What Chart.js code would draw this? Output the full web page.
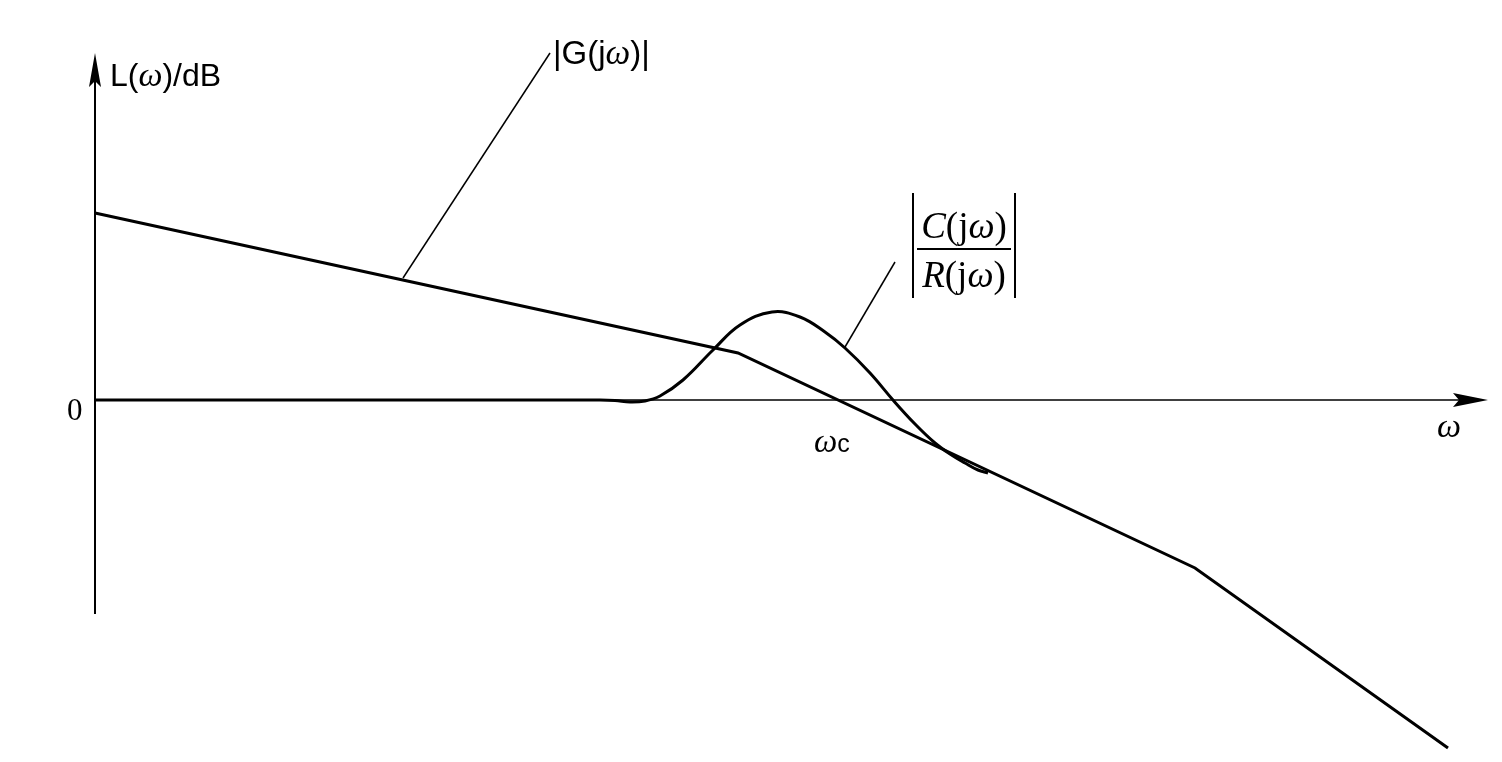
<!DOCTYPE html>
<html lang="en">
<head>
<meta charset="UTF-8">
<title>Bode sketch</title>
<script src="https://cdn.jsdelivr.net/npm/chart.js"></script>
<style>
  body { margin: 0; background: #fff; }
  #wrap { width: 1502px; height: 762px; }
</style>
</head>
<body>
<div id="wrap"><canvas id="bode"></canvas></div>
<script>
// open-loop asymptote |G(jw)|  (x: log-frequency units, y: dB)
const gX = [0, 6.43, 11.0, 13.53];
const gY = [18.7, 4.7, -16.8, -34.8];

// closed-loop magnitude |C(jw)/R(jw)|
const clX = [0, 5.05, 5.2, 5.35, 5.5, 5.65, 5.88, 6.18, 6.45, 6.77, 7.05, 7.3, 7.5, 7.75, 7.98, 8.2, 8.4, 8.55, 8.7, 8.83, 8.93];
const clY = [0, 0, -0.05, -0.2, -0.1, 0.4, 2.0, 5.0, 7.5, 8.8, 8.3, 6.8, 5.2, 2.7, 0, -2.4, -4.3, -5.4, -6.3, -7.0, -7.3];

// leader lines from labels to curves
const leadGX = [3.08, 4.55];
const leadGY = [12.2, 34.7];
const leadCX = [7.5, 8.0];
const leadCY = [5.3, 13.8];

const xMin = -0.95, xMax = 14.07;
const yMin = -36.2, yMax = 40;

function pts(xs, ys) { return xs.map((x, i) => ({ x: x, y: ys[i] })); }

const SANS = '"Liberation Sans", Arial, sans-serif';
const SERIF = '"Liberation Serif", "Times New Roman", serif';

function runs(ctx, x, y, parts) {
    ctx.textBaseline = 'alphabetic';
    ctx.textAlign = 'left';
    parts.forEach(p => {
        ctx.font = p[1];
        ctx.fillText(p[0], x, y);
        x += ctx.measureText(p[0]).width;
    });
    return x;
}
function runsWidth(ctx, parts) {
    let w = 0;
    parts.forEach(p => { ctx.font = p[1]; w += ctx.measureText(p[0]).width; });
    return w;
}

const axesPlugin = {
    id: 'axes',
    beforeDatasetsDraw(chart) {
        const ctx = chart.ctx, xs = chart.scales.x, ys = chart.scales.y;
        const ox = xs.getPixelForValue(0), oy = ys.getPixelForValue(0);
        const top = ys.getPixelForValue(34.7), bottom = ys.getPixelForValue(-21.4);
        const right = xs.getPixelForValue(13.93);
        ctx.save();
        ctx.strokeStyle = '#000';
        ctx.fillStyle = '#000';
        // y axis
        ctx.lineWidth = 2;
        ctx.beginPath(); ctx.moveTo(ox, bottom); ctx.lineTo(ox, top + 20); ctx.stroke();
        ctx.beginPath();
        ctx.moveTo(ox, top); ctx.lineTo(ox + 6, top + 34); ctx.lineTo(ox, top + 28); ctx.lineTo(ox - 6, top + 34);
        ctx.closePath(); ctx.fill();
        // x axis
        ctx.lineWidth = 1.5;
        ctx.beginPath(); ctx.moveTo(ox, oy); ctx.lineTo(right - 20, oy); ctx.stroke();
        ctx.beginPath();
        ctx.moveTo(right, oy); ctx.lineTo(right - 35, oy - 7); ctx.lineTo(right - 29, oy); ctx.lineTo(right - 35, oy + 7);
        ctx.closePath(); ctx.fill();
        ctx.restore();
    },
    afterDraw(chart) {
        const ctx = chart.ctx;
        ctx.save();
        ctx.fillStyle = '#000';
        runs(ctx, 110, 86, [['L(', '32px ' + SANS], ['\u03c9', 'italic 34px ' + SERIF], [')/dB', '32px ' + SANS]]);
        runs(ctx, 553, 64, [['|G(j', '33px ' + SANS], ['\u03c9', 'italic 35px ' + SERIF], [')|', '33px ' + SANS]]);
        ctx.font = '31px ' + SERIF;
        ctx.fillText('0', 67, 420);
        ctx.font = 'italic 34px ' + SERIF;
        ctx.fillText('\u03c9', 1437, 437);
        runs(ctx, 814, 452, [['\u03c9', 'italic 33px ' + SERIF], ['c', '25px ' + SANS]]);

        // |C(jw)/R(jw)|
        const num = [['C', 'italic 37px ' + SERIF], ['(j', '37px ' + SERIF], ['\u03c9', 'italic 37px ' + SERIF], [')', '37px ' + SERIF]];
        const den = [['R', 'italic 37px ' + SERIF], ['(j', '37px ' + SERIF], ['\u03c9', 'italic 37px ' + SERIF], [')', '37px ' + SERIF]];
        const cx = 964;
        runs(ctx, cx - runsWidth(ctx, num) / 2, 238, num);
        runs(ctx, cx - runsWidth(ctx, den) / 2, 287, den);
        ctx.fillRect(917, 248, 94, 2);
        ctx.fillRect(912, 193, 2, 105);
        ctx.fillRect(1014, 193, 2, 105);
        ctx.restore();
    }
};

new Chart(document.getElementById('bode'), {
    type: 'scatter',
    data: {
        datasets: [
            { data: pts(gX, gY), showLine: true, borderColor: '#000', borderWidth: 3, pointRadius: 0, tension: 0 },
            { data: pts(clX, clY), showLine: true, borderColor: '#000', borderWidth: 3, pointRadius: 0, tension: 0.4 },
            { data: pts(leadGX, leadGY), showLine: true, borderColor: '#000', borderWidth: 1.5, pointRadius: 0 },
            { data: pts(leadCX, leadCY), showLine: true, borderColor: '#000', borderWidth: 1.5, pointRadius: 0 }
        ]
    },
    options: {
        responsive: true,
        maintainAspectRatio: false,
        animation: false,
        layout: { padding: 0 },
        plugins: { legend: { display: false }, tooltip: { enabled: false } },
        scales: {
            x: { type: 'linear', min: xMin, max: xMax, display: false },
            y: { type: 'linear', min: yMin, max: yMax, display: false }
        }
    },
    plugins: [axesPlugin]
});
</script>
</body>
</html>
